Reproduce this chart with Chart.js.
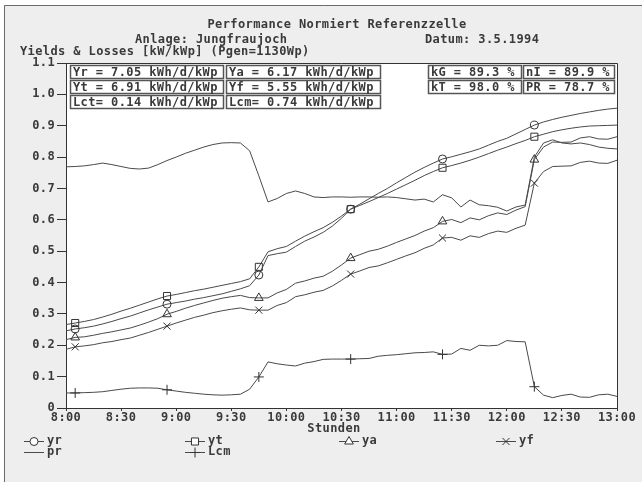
<!DOCTYPE html>
<html>
<head>
<meta charset="utf-8">
<script src="https://cdn.jsdelivr.net/npm/chart.js@4.4.0/dist/chart.umd.min.js"></script>
<style>
  html, body { margin: 0; padding: 0; background: #fff; }
  #wrap { width: 642px; height: 482px; }
</style>
</head>
<body>
<div id="wrap"><canvas id="perfChart" width="642" height="482"></canvas></div>
<script>
// time stamps (5 minute values)
const times = [
  '8:00','8:05','8:10','8:15','8:20','8:25','8:30','8:35','8:40','8:45','8:50','8:55',
  '9:00','9:05','9:10','9:15','9:20','9:25','9:30','9:35','9:40','9:45',
  '9:50','9:55','10:00','10:05','10:10','10:15','10:20','10:25','10:30','10:35',
  '10:40','10:45','10:50','10:55','11:00','11:05','11:10','11:15','11:20','11:25',
  '11:30','11:35','11:40','11:45','11:50','11:55','12:00','12:05','12:10','12:15',
  '12:20','12:25','12:30','12:35','12:40','12:45','12:50','12:55','13:00'
];

const yr = [
  0.246, 0.252, 0.256, 0.261, 0.268, 0.276, 0.285, 0.293, 0.303, 0.313, 0.322, 0.331,
  0.336, 0.341, 0.347, 0.352, 0.358, 0.364, 0.372, 0.380, 0.390, 0.424,
  0.486, 0.492, 0.497, 0.515, 0.532, 0.545, 0.560, 0.580, 0.605, 0.634,
  0.650, 0.667, 0.684, 0.700, 0.718, 0.735, 0.752, 0.767, 0.781, 0.794,
  0.801, 0.809, 0.817, 0.826, 0.838, 0.850, 0.860, 0.874, 0.888, 0.902,
  0.912, 0.920, 0.927, 0.933, 0.939, 0.944, 0.949, 0.953, 0.956
];
const yt = [
  0.266, 0.271, 0.276, 0.282, 0.290, 0.299, 0.309, 0.318, 0.328, 0.338, 0.348, 0.357,
  0.362, 0.368, 0.374, 0.379, 0.385, 0.391, 0.397, 0.403, 0.412, 0.450,
  0.498, 0.508, 0.515, 0.532, 0.548, 0.562, 0.575, 0.592, 0.612, 0.634,
  0.646, 0.658, 0.671, 0.684, 0.698, 0.712, 0.726, 0.741, 0.754, 0.766,
  0.773, 0.781, 0.790, 0.800, 0.811, 0.822, 0.832, 0.843, 0.853, 0.865,
  0.873, 0.881, 0.887, 0.892, 0.896, 0.899, 0.900, 0.901, 0.902
];
const ya = [
  0.218, 0.225, 0.227, 0.232, 0.238, 0.243, 0.249, 0.255, 0.264, 0.274, 0.285, 0.299,
  0.308, 0.318, 0.327, 0.335, 0.343, 0.350, 0.355, 0.359, 0.352, 0.351,
  0.351, 0.367, 0.378, 0.398, 0.405, 0.414, 0.420, 0.436, 0.456, 0.478,
  0.489, 0.500, 0.506, 0.516, 0.528, 0.539, 0.550, 0.564, 0.575, 0.595,
  0.601, 0.591, 0.606, 0.600, 0.613, 0.622, 0.617, 0.631, 0.642, 0.792,
  0.832, 0.848, 0.847, 0.848, 0.861, 0.865, 0.858, 0.857, 0.865
];
const yf = [
  0.187, 0.195, 0.198, 0.202, 0.208, 0.212, 0.218, 0.223, 0.232, 0.241, 0.251, 0.261,
  0.271, 0.280, 0.289, 0.296, 0.304, 0.310, 0.315, 0.319, 0.313, 0.312,
  0.312, 0.327, 0.336, 0.355, 0.361, 0.369, 0.375, 0.389, 0.407, 0.427,
  0.437, 0.448, 0.453, 0.463, 0.474, 0.485, 0.495, 0.509, 0.520, 0.542,
  0.544, 0.535, 0.549, 0.544, 0.556, 0.564, 0.560, 0.573, 0.583, 0.717,
  0.754, 0.770, 0.771, 0.772, 0.783, 0.787, 0.781, 0.780, 0.790
];
const pr = [
  0.769, 0.770, 0.772, 0.776, 0.781, 0.776, 0.770, 0.764, 0.762, 0.765, 0.776, 0.789,
  0.800, 0.812, 0.822, 0.832, 0.840, 0.845, 0.846, 0.845, 0.820, 0.740,
  0.657, 0.668, 0.684, 0.692, 0.684, 0.673, 0.671, 0.673, 0.673, 0.672,
  0.673, 0.673, 0.672, 0.673, 0.671, 0.667, 0.663, 0.666, 0.657, 0.680,
  0.670, 0.641, 0.663, 0.648, 0.645, 0.640, 0.628, 0.641, 0.647, 0.800,
  0.845, 0.855, 0.845, 0.842, 0.845, 0.840, 0.832, 0.828, 0.826
];
const lcm = [
  0.048, 0.048, 0.049, 0.050, 0.052, 0.056, 0.060, 0.063, 0.064, 0.064, 0.063, 0.058,
  0.054, 0.050, 0.047, 0.044, 0.042, 0.041, 0.042, 0.044, 0.060, 0.099,
  0.147, 0.141, 0.137, 0.134, 0.143, 0.148, 0.155, 0.156, 0.156, 0.156,
  0.157, 0.158, 0.165, 0.168, 0.170, 0.173, 0.176, 0.177, 0.179, 0.171,
  0.172, 0.190, 0.184, 0.200, 0.198, 0.200, 0.215, 0.212, 0.211, 0.068,
  0.041, 0.033, 0.040, 0.044, 0.035, 0.034, 0.042, 0.044, 0.037
];

// samples that carry a symbol
const markerIdx = [1, 11, 21, 31, 41, 51];

const xTickLabels = ['8:00','8:30','9:00','9:30','10:00','10:30','11:00','11:30','12:00','12:30','13:00'];

const infoBoxes = [
  ['Yr = 7.05 kWh/d/kWp', 'Ya = 6.17 kWh/d/kWp', 'kG = 89.3 %', 'nI = 89.9 %'],
  ['Yt = 6.91 kWh/d/kWp', 'Yf = 5.55 kWh/d/kWp', 'kT = 98.0 %', 'PR = 78.7 %'],
  ['Lct= 0.14 kWh/d/kWp', 'Lcm= 0.74 kWh/d/kWp']
];

const FONT = '"DejaVu Sans Mono", "Liberation Mono", monospace';
const FONT_SIZE = 12;
const SPACING = '0.4px';
const INK = '#3a3a3a';
const LINE = '#4a4a4a';

function toMinutes(t) {
  const parts = t.split(':').map(Number);
  return (parts[0] - 8) * 60 + parts[1];
}

const series = [
  { label: 'yr',  values: yr,  style: 'circle',   r: 4 },
  { label: 'yt',  values: yt,  style: 'rect',     r: 5 },
  { label: 'ya',  values: ya,  style: 'triangle', r: 5 },
  { label: 'yf',  values: yf,  style: 'crossRot', r: 5 },
  { label: 'pr',  values: pr,  style: false,      r: 0 },
  { label: 'Lcm', values: lcm, style: 'cross',    r: 5 }
];

const datasets = series.map(s => ({
  label: s.label,
  data: times.map((t, i) => ({ x: toMinutes(t), y: s.values[i] })),
  borderColor: LINE,
  borderWidth: 1,
  tension: 0,
  fill: false,
  pointStyle: s.style,
  pointRadius: ctx => (s.r && markerIdx.includes(ctx.dataIndex)) ? s.r : 0,
  pointBackgroundColor: 'rgba(255,255,255,0)',
  pointBorderColor: '#333',
  pointBorderWidth: 1
}));

function text(ctx, str, x, y, align) {
  ctx.textAlign = align || 'left';
  ctx.textBaseline = 'middle';
  ctx.fillText(str, x, y);
}

const pagePlugin = {
  id: 'page',
  beforeDraw(chart) {
    const ctx = chart.ctx;
    const a = chart.chartArea;
    ctx.save();
    ctx.fillStyle = '#ffffff';
    ctx.fillRect(0, 0, chart.width, chart.height);
    ctx.fillStyle = '#eeeeee';
    ctx.fillRect(4, 5, chart.width - 4, chart.height - 5);
    ctx.fillStyle = '#ffffff';
    ctx.fillRect(a.left, a.top, a.right - a.left, a.bottom - a.top);
    ctx.strokeStyle = '#6a6a6a';
    ctx.lineWidth = 1;
    ctx.beginPath();
    ctx.moveTo(4.5, chart.height);
    ctx.lineTo(4.5, 5.5);
    ctx.lineTo(chart.width, 5.5);
    ctx.stroke();
    ctx.restore();
    // slightly wider lettering, also for the tick labels
    ctx.letterSpacing = SPACING;
  },
  afterDraw(chart) {
    const ctx = chart.ctx;
    const a = chart.chartArea;
    ctx.save();
    ctx.letterSpacing = SPACING;
    // frame of the plot
    ctx.strokeStyle = '#333';
    ctx.lineWidth = 1;
    ctx.beginPath();
    ctx.moveTo(a.left, a.top + 0.5);
    ctx.lineTo(a.right + 0.5, a.top + 0.5);
    ctx.lineTo(a.right + 0.5, a.bottom);
    ctx.stroke();

    ctx.fillStyle = INK;
    ctx.font = 'bold ' + FONT_SIZE + 'px ' + FONT;
    text(ctx, 'Performance Normiert Referenzzelle', 337, 25, 'center');
    text(ctx, 'Anlage: Jungfraujoch', 135, 40);
    text(ctx, 'Datum: 3.5.1994', 425, 40);
    text(ctx, 'Yields & Losses [kW/kWp] (Pgen=1130Wp)', 20, 52);
    text(ctx, 'Stunden', 334, 429, 'center');

    // value boxes
    const boxX = [[70, 153], [226, 154], [428, 93], [523, 91]];
    const rowY = [65, 80, 95];
    infoBoxes.forEach((row, r) => {
      row.forEach((label, c) => {
        const [bx, bw] = boxX[c];
        const by = rowY[r];
        ctx.fillStyle = '#ffffff';
        ctx.fillRect(bx, by, bw, 13);
        ctx.strokeStyle = '#555';
        ctx.lineWidth = 1.5;
        ctx.strokeRect(bx + 0.5, by + 0.5, bw, 13);
        ctx.fillStyle = INK;
        text(ctx, label, bx + 3, by + 7.5);
      });
    });

    // legend
    const legend = [
      { i: 0, x: 24, y: 441 }, { i: 4, x: 24, y: 452 },
      { i: 1, x: 185, y: 441 }, { i: 5, x: 185, y: 452 },
      { i: 2, x: 339, y: 441 }, { i: 3, x: 496, y: 441 }
    ];
    legend.forEach(item => {
      const s = series[item.i];
      ctx.strokeStyle = LINE;
      ctx.lineWidth = 1;
      ctx.beginPath();
      ctx.moveTo(item.x, item.y + 0.5);
      ctx.lineTo(item.x + 20, item.y + 0.5);
      ctx.stroke();
      if (s.style) {
        ctx.fillStyle = '#ffffff';
        ctx.strokeStyle = '#333';
        Chart.helpers.drawPoint(ctx, { pointStyle: s.style, radius: s.r, rotation: 0, borderWidth: 1 }, item.x + 10, item.y + 0.5);
      }
      ctx.fillStyle = INK;
      ctx.font = 'bold ' + FONT_SIZE + 'px ' + FONT;
      text(ctx, s.label, item.x + 23, item.y);
    });
    ctx.restore();
  }
};

new Chart(document.getElementById('perfChart'), {
  type: 'line',
  data: { datasets: datasets },
  options: {
    responsive: false,
    devicePixelRatio: 1,
    animation: false,
    layout: { padding: { top: 63, right: 25, bottom: 0, left: 0 } },
    plugins: { legend: { display: false }, tooltip: { enabled: false } },
    scales: {
      x: {
        type: 'linear',
        min: 0,
        max: 300,
        afterFit: scale => { scale.height = 74; },
        border: { color: '#333', width: 1 },
        grid: { drawOnChartArea: false, tickLength: 3, color: '#333' },
        ticks: {
          stepSize: 30,
          padding: 0,
          color: INK,
          font: { family: FONT, size: FONT_SIZE, weight: 'bold' },
          maxRotation: 0,
          callback: v => xTickLabels[Math.round(v / 30)]
        }
      },
      y: {
        min: 0,
        max: 1.1,
        afterFit: scale => { scale.width = 66; },
        border: { color: '#333', width: 1 },
        grid: { drawOnChartArea: false, tickLength: 9, color: '#333' },
        ticks: {
          stepSize: 0.1,
          padding: 2,
          color: INK,
          font: { family: FONT, size: FONT_SIZE, weight: 'bold' },
          callback: v => (Math.abs(v) < 1e-9 ? '0' : v.toFixed(1))
        }
      }
    }
  },
  plugins: [pagePlugin]
});
</script>
</body>
</html>
